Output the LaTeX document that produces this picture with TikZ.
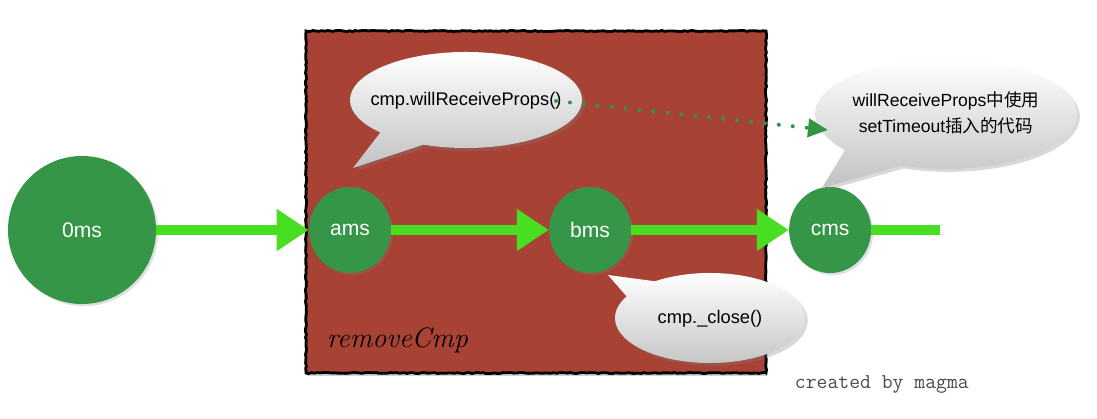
\documentclass[tikz,border=0pt]{standalone}
\usepackage{fontspec}
\setsansfont{Liberation Sans}
\newfontfamily\cjk{Noto Sans CJK SC}
\usetikzlibrary{shapes.geometric}
\usetikzlibrary{shapes.callouts}
\usetikzlibrary{shadows}
\usetikzlibrary{positioning}
\usetikzlibrary{arrows.meta}
\usetikzlibrary{decorations.pathmorphing}

\definecolor{boxred}{RGB}{168,66,52}
\definecolor{nodegreen}{RGB}{52,150,70}
\definecolor{chalk}{RGB}{72,222,34}
\definecolor{dotgreen}{RGB}{50,150,65}

\newcommand{\bubbletext}[1]{\makebox[0pt]{\begin{tabular}{@{}c@{}}#1\end{tabular}}}

\begin{document}
\begin{tikzpicture}[x=0.025cm,y=-0.025cm,node distance=6cm,
	time node/.style={ellipse,fill=nodegreen,text=white,inner sep=0pt,
		font=\sffamily\fontsize{15}{18}\selectfont,
		drop shadow={shadow xshift=1.5pt,shadow yshift=-1.5pt,opacity=0.25}},
	bubble/.style={ellipse callout,top color=white,bottom color=black!24,
		inner sep=0pt,callout pointer arc=26,
		font=\sffamily\fontsize{13}{18.5}\selectfont,
		drop shadow={shadow xshift=2pt,shadow yshift=-2pt,opacity=0.3}},
	flow/.style={chalk,line width=0.25cm,-{Triangle[length=0.8cm,width=1cm]}},
	hint/.style={dotgreen,line width=0.1cm,line cap=round,
		dash pattern=on 0pt off 0.35cm,-{Triangle[length=0.5cm,width=0.45cm]}}]
	
	\useasboundingbox (0,0) rectangle (1097,419);
	
	% the removeCmp frame
	\fill[boxred,drop shadow={shadow xshift=1pt,shadow yshift=-2pt,opacity=0.35}]
		(306,31) rectangle (766,373);
	\draw[line width=0.07cm,decorate,
		decoration={random steps,segment length=2pt,amplitude=0.4pt}]
		(306,31) rectangle (766,373);
	\node[anchor=base west,font=\itshape\fontsize{20}{24}\selectfont] (frame name)
		at (322,347) {removeCmp};
	
	% time points
	\node[time node,minimum width=3.7cm,minimum height=3.7cm] (zero) at (82,230) {0ms};
	\node[time node,minimum width=2.05cm,minimum height=2.15cm] (a) at (350,230) {ams};
	\node[time node,minimum width=2.05cm,minimum height=2.15cm] (b) [right of=a] {bms};
	\node[time node,minimum width=2.05cm,minimum height=2.15cm] (c) [right of=b] {cms};
	\coordinate (tail) at (940,230);
	
	\draw[flow] (zero) -- (a);
	\draw[flow] (a) -- (b);
	\draw[flow] (b) -- (c);
	\draw[chalk,line width=0.25cm] (c) -- (tail);
	
	% bubbles
	\coordinate (tip say) at (353,168);
	\coordinate (tip later) at (822,188);
	\coordinate (tip close) at (608,275);
	\node[bubble,minimum width=5.8cm,minimum height=2.4cm,
		callout absolute pointer={(tip say)}] (say) at (466,100)
		{\bubbletext{cmp.willReceiveProps()}};
	\node[bubble,minimum width=6.55cm,minimum height=2.75cm,callout pointer arc=30,
		font=\sffamily\fontsize{12.5}{18.5}\selectfont,
		callout absolute pointer={(tip later)}] (later) at (946,114)
		{\bubbletext{willReceiveProps{\cjk 中使用}\\setTimeout{\cjk 插入的代码}}};
	\node[bubble,minimum width=4.75cm,minimum height=2.25cm,
		callout absolute pointer={(tip close)}] (close) at (710,318)
		{\bubbletext{cmp.\_close()}};
	
	\coordinate (hint start) at (556,101);
	\coordinate (hint end) at (828,130);
	\draw[hint] (hint start) -- (hint end);
	
	\node[anchor=base west,text=black!70,font=\ttfamily\fontsize{15}{18}\selectfont]
		(credit) at (790,388) {created by magma};
\end{tikzpicture}
\end{document}
